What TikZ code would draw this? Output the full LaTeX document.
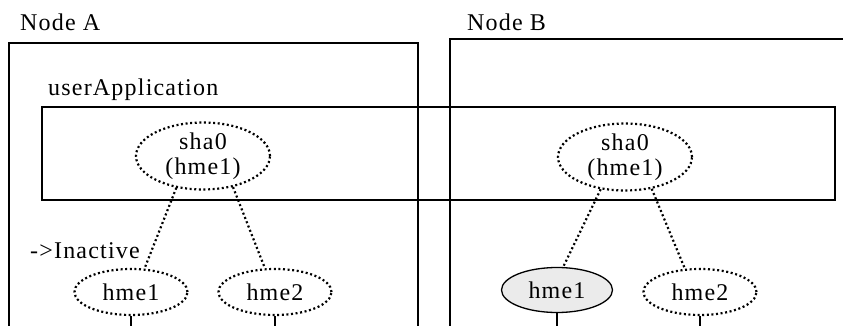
\documentclass[tikz,border=0pt]{standalone}
\usepackage{fontspec}
\setmainfont{Liberation Serif}[LetterSpace=5]
\usetikzlibrary{shapes.geometric}
\tikzset{
  box/.style={draw=black, line width=1.5pt},
  dotline/.style={draw=black, line width=2.2pt, dash pattern=on 2pt off 2.6pt},
  ifnode/.style={ellipse, dotline, minimum width=113pt, minimum height=46pt, inner sep=0pt, font=\fontsize{24}{26}\selectfont},
  shanode/.style={ellipse, dotline, minimum width=134pt, minimum height=67pt, inner sep=0pt, align=center, font=\fontsize{24}{25}\selectfont},
  activenode/.style={ellipse, draw=black, line width=1.3pt, fill=black!8, minimum width=111pt, minimum height=45pt, inner sep=0pt, font=\fontsize{24}{26}\selectfont},
  lbl/.style={anchor=base west, inner sep=0pt, font=\fontsize{24}{26}\selectfont},
  conn/.style={dotline},
  stem/.style={draw=black, line width=1.3pt}
}
\begin{document}
\begin{tikzpicture}[x=1pt,y=-1pt]
\useasboundingbox (0,0) rectangle (843,326);
% node boxes (open at bottom)
\coordinate (bottom) at (0,326);
\draw[box] (9,326) -- (9,43) -- (418,43) -- (418,326);
\draw[box] (450,326) -- (450,39) -- (843,39);
% userApplication box
\draw[box] (42,107) rectangle (835,200);
% labels
\node[lbl] (labA) at (20,31) {Node A};
\node[lbl] (labB) at (467,31) {Node B};
\node[lbl] (labUA) at (48,96) {userApplication};
\node[lbl] (labIn) at (30,258) {->Inactive};
% Node A
\node[shanode] (shaA) at (203,156) {sha0\\(hme1)};
\node[ifnode] (hme1A) at (131,292) {hme1};
\node[ifnode] (hme2A) at (275,292) {hme2};
% Node B
\node[shanode] (shaB) at (625,157) {sha0\\(hme1)};
\node[activenode] (hme1B) at (557,290) {hme1};
\node[ifnode] (hme2B) at (700,292) {hme2};
% connectors
\draw[conn] (shaA.-130) -- (hme1A.60);
\draw[conn] (shaA.-46) -- (hme2A.113);
\draw[conn] (shaB.-127) -- (hme1B.75);
\draw[conn] (shaB.-50) -- (hme2B.123);
% stems
\draw[stem] (hme1A.south) -- (hme1A.south |- bottom);
\draw[stem] (hme2A.south) -- (hme2A.south |- bottom);
\draw[stem] (hme1B.south) -- (hme1B.south |- bottom);
\draw[stem] (hme2B.south) -- (hme2B.south |- bottom);
\end{tikzpicture}
\end{document}
